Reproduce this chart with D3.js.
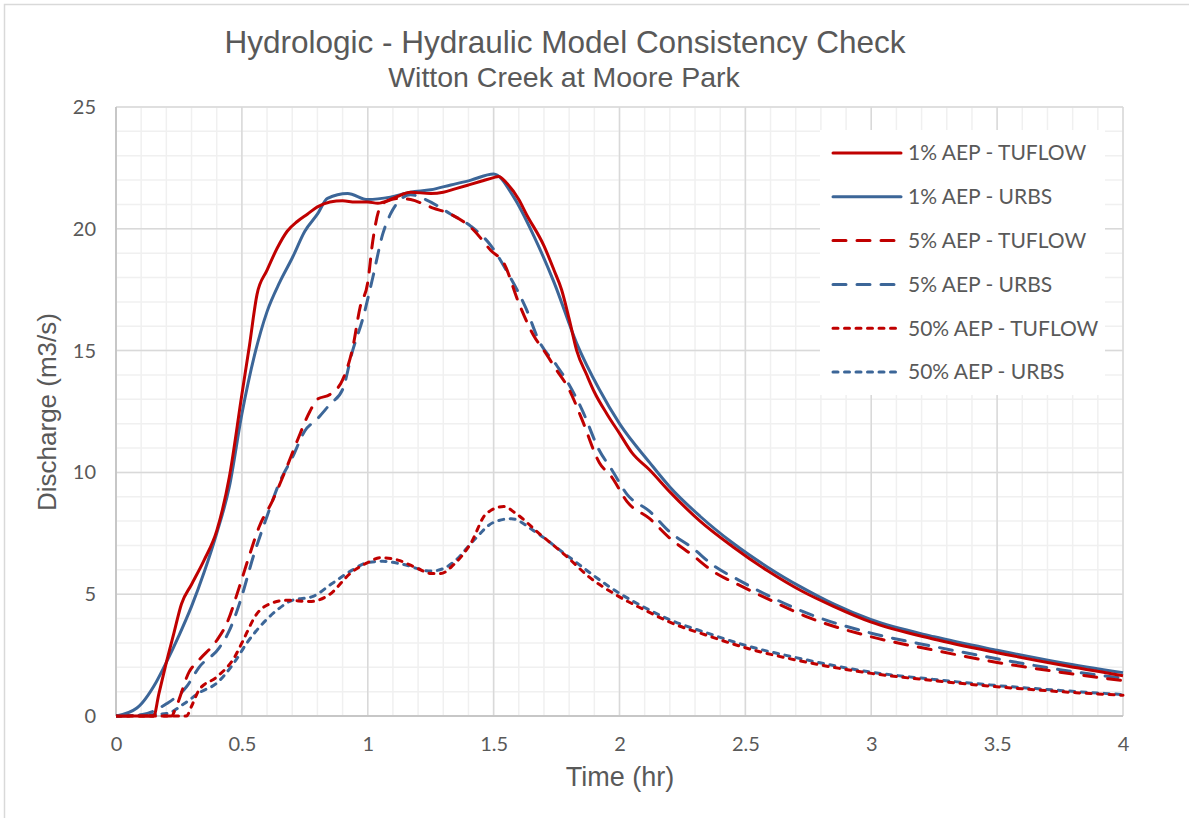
<html>
<head>
<script src="https://d3js.org/d3.v7.min.js"></script>
<style>
  body { margin: 0; background: #fff; }
  text { fill: #595959; }
</style>
</head>
<body>
<script>

// --- data ---
var titleText = "Hydrologic - Hydraulic Model Consistency Check";
var subtitleText = "Witton Creek at Moore Park";

var xTicks = [0, 0.5, 1, 1.5, 2, 2.5, 3, 3.5, 4];
var yTicks = [0, 5, 10, 15, 20, 25];

var seriesNames = ["1% AEP - TUFLOW", "1% AEP - URBS", "5% AEP - TUFLOW",
                   "5% AEP - URBS", "50% AEP - TUFLOW", "50% AEP - URBS"];

var t1Tuflow = [0, 0.15, 0.17, 0.2, 0.23, 0.26, 0.3, 0.35, 0.4, 0.45, 0.5, 0.53, 0.56, 0.6, 0.64, 0.68, 0.72, 0.76, 0.8, 0.85, 0.9, 0.95, 1.0, 1.04, 1.1, 1.17, 1.25, 1.3, 1.35, 1.4, 1.45, 1.5, 1.52, 1.55, 1.6, 1.63, 1.7, 1.74, 1.77, 1.8, 1.83, 1.87, 1.9, 1.95, 2.0, 2.05, 2.12, 2.2, 2.32, 2.45, 2.59, 2.72, 2.85, 3.0, 3.25, 3.5, 3.75, 4.0];
var q1Tuflow = [0, 0, 0.9, 2.2, 3.4, 4.6, 5.4, 6.4, 7.6, 9.8, 13.2, 15.2, 17.3, 18.3, 19.2, 19.9, 20.3, 20.6, 20.9, 21.1, 21.15, 21.1, 21.1, 21.05, 21.25, 21.5, 21.45, 21.5, 21.65, 21.8, 21.95, 22.1, 22.15, 21.9, 21.2, 20.6, 19.3, 18.3, 17.5, 16.3, 15.0, 14.0, 13.3, 12.4, 11.6, 10.8, 10.1, 9.2, 8.0, 6.95, 5.95, 5.15, 4.5, 3.85, 3.15, 2.6, 2.1, 1.65];

var t1Urbs = [0, 0.083, 0.16, 0.2, 0.25, 0.3, 0.35, 0.4, 0.45, 0.5, 0.55, 0.6, 0.65, 0.7, 0.75, 0.8, 0.84, 0.92, 1.0, 1.09, 1.17, 1.25, 1.33, 1.41, 1.5, 1.58, 1.66, 1.74, 1.83, 1.92, 2.0, 2.12, 2.2, 2.32, 2.45, 2.59, 2.72, 2.85, 3.0, 3.25, 3.5, 3.75, 4.0];
var q1Urbs = [0, 0.33, 1.4, 2.2, 3.3, 4.5, 5.9, 7.5, 9.4, 12.4, 14.8, 16.6, 17.8, 18.8, 19.9, 20.6, 21.25, 21.45, 21.2, 21.3, 21.5, 21.6, 21.8, 22.0, 22.25, 21.3, 19.7, 17.8, 15.3, 13.4, 12.0, 10.4, 9.4, 8.2, 7.1, 6.1, 5.3, 4.6, 3.95, 3.25, 2.7, 2.2, 1.78];

var t5Tuflow = [0, 0.22, 0.24, 0.29, 0.33, 0.4, 0.44, 0.49, 0.53, 0.57, 0.62, 0.67, 0.72, 0.77, 0.8, 0.85, 0.9, 0.94, 0.97, 1.0, 1.02, 1.05, 1.08, 1.13, 1.17, 1.26, 1.33, 1.42, 1.49, 1.54, 1.6, 1.66, 1.7, 1.75, 1.8, 1.85, 1.92, 1.97, 2.03, 2.12, 2.2, 2.29, 2.37, 2.47, 2.57, 2.75, 3.0, 3.25, 3.5, 3.75, 4.0];
var q5Tuflow = [0, 0, 0.4, 1.8, 2.3, 3.1, 3.8, 5.3, 6.6, 7.8, 8.8, 10.0, 11.3, 12.5, 13.0, 13.2, 13.8, 15.1, 16.8, 17.8, 19.5, 20.9, 21.15, 21.25, 21.2, 20.85, 20.6, 19.95, 19.1, 18.6, 16.95, 15.6, 15.0, 14.2, 13.4, 12.2, 10.4, 9.8, 8.8, 8.1, 7.3, 6.6, 5.95, 5.4, 4.9, 4.05, 3.25, 2.7, 2.2, 1.8, 1.45];

var t5Urbs = [0, 0.1, 0.2, 0.28, 0.33, 0.41, 0.45, 0.49, 0.55, 0.6, 0.65, 0.7, 0.75, 0.8, 0.85, 0.9, 0.94, 0.98, 1.02, 1.06, 1.09, 1.13, 1.17, 1.23, 1.33, 1.41, 1.49, 1.55, 1.63, 1.68, 1.75, 1.8, 1.85, 1.92, 1.97, 2.03, 2.12, 2.2, 2.29, 2.37, 2.47, 2.57, 2.75, 3.0, 3.25, 3.5, 3.75, 4.0];
var q5Urbs = [0, 0.05, 0.5, 1.2, 2.0, 2.8, 3.5, 4.6, 6.7, 8.2, 9.6, 10.6, 11.7, 12.2, 12.8, 13.4, 15.0, 16.3, 18.0, 19.8, 20.6, 21.2, 21.4, 21.2, 20.6, 20.1, 19.3, 18.3, 16.7, 15.4, 14.4, 13.6, 12.6, 10.9, 10.1, 9.1, 8.4, 7.55, 6.9, 6.2, 5.6, 5.05, 4.2, 3.4, 2.85, 2.35, 1.9, 1.55];

var t50Tuflow = [0, 0.28, 0.3, 0.33, 0.4, 0.47, 0.5, 0.56, 0.61, 0.68, 0.77, 0.85, 0.93, 1.0, 1.05, 1.12, 1.2, 1.25, 1.29, 1.34, 1.41, 1.47, 1.54, 1.59, 1.68, 1.79, 1.88, 1.99, 2.11, 2.2, 2.35, 2.5, 2.7, 3.0, 3.25, 3.5, 3.75, 4.0];
var q50Tuflow = [0, 0, 0.4, 1.07, 1.6, 2.4, 3.0, 4.2, 4.6, 4.75, 4.7, 5.0, 5.85, 6.3, 6.5, 6.4, 6.05, 5.85, 5.85, 6.2, 7.1, 8.3, 8.6, 8.3, 7.5, 6.55, 5.7, 4.95, 4.3, 3.85, 3.3, 2.8, 2.3, 1.75, 1.45, 1.2, 1.0, 0.85];

var t50Urbs = [0, 0.2, 0.27, 0.33, 0.4, 0.47, 0.52, 0.57, 0.64, 0.7, 0.78, 0.86, 0.94, 1.0, 1.06, 1.13, 1.25, 1.3, 1.35, 1.42, 1.5, 1.57, 1.66, 1.79, 1.99, 2.11, 2.2, 2.35, 2.5, 2.7, 3.0, 3.25, 3.5, 3.75, 4.0];
var q50Urbs = [0, 0.1, 0.5, 0.95, 1.35, 2.2, 3.0, 3.65, 4.35, 4.75, 4.9, 5.45, 6.0, 6.3, 6.35, 6.25, 5.95, 6.05, 6.4, 7.2, 7.95, 8.1, 7.6, 6.6, 5.1, 4.4, 3.95, 3.4, 2.9, 2.4, 1.8, 1.5, 1.25, 1.05, 0.88];

// --- setup ---
var W = 1189, H = 818;
var plotLeft = 116, plotRight = 1123, plotTop = 107, plotBottom = 716;
var red = "#c00000", blue = "#3c6698";

var seriesList = [
  { name: seriesNames[0], t: t1Tuflow, q: q1Tuflow, color: red, dash: null },
  { name: seriesNames[1], t: t1Urbs, q: q1Urbs, color: blue, dash: null },
  { name: seriesNames[2], t: t5Tuflow, q: q5Tuflow, color: red, dash: "13,11" },
  { name: seriesNames[3], t: t5Urbs, q: q5Urbs, color: blue, dash: "13,11" },
  { name: seriesNames[4], t: t50Tuflow, q: q50Tuflow, color: red, dash: "5,6.5" },
  { name: seriesNames[5], t: t50Urbs, q: q50Urbs, color: blue, dash: "5,6.5" }
];

var svg = d3.select("body").append("svg")
  .attr("width", W)
  .attr("height", H);

svg.append("rect")
  .attr("x", 4.5).attr("y", 4.5)
  .attr("width", W + 20).attr("height", H + 20)
  .attr("fill", "white")
  .attr("stroke", "#d9d9d9")
  .attr("stroke-width", 1.5);

var x = d3.scaleLinear().domain([0, 4]).range([plotLeft, plotRight]);
var y = d3.scaleLinear().domain([0, 25]).range([plotBottom, plotTop]);

// minor grid
svg.append("g").selectAll("line")
  .data(d3.range(0, 41).map(d => d / 10))
  .enter().append("line")
  .attr("x1", d => x(d)).attr("x2", d => x(d))
  .attr("y1", plotTop).attr("y2", plotBottom)
  .attr("stroke", "#f0f0f0").attr("stroke-width", 1.5);

svg.append("g").selectAll("line")
  .data(d3.range(0, 26))
  .enter().append("line")
  .attr("x1", plotLeft).attr("x2", plotRight)
  .attr("y1", d => y(d)).attr("y2", d => y(d))
  .attr("stroke", "#f0f0f0").attr("stroke-width", 1.5);

// major grid
svg.append("g").selectAll("line")
  .data(xTicks)
  .enter().append("line")
  .attr("x1", d => x(d)).attr("x2", d => x(d))
  .attr("y1", plotTop).attr("y2", plotBottom)
  .attr("stroke", "#d9d9d9").attr("stroke-width", 1.5);

svg.append("g").selectAll("line")
  .data(yTicks)
  .enter().append("line")
  .attr("x1", plotLeft).attr("x2", plotRight)
  .attr("y1", d => y(d)).attr("y2", d => y(d))
  .attr("stroke", "#d9d9d9").attr("stroke-width", 1.5);

// axes (labels only, lines drawn by hand)
var xAxis = svg.append("g")
  .attr("transform", "translate(0," + plotBottom + ")")
  .call(d3.axisBottom(x).tickValues(xTicks).tickFormat(d3.format("")).tickSize(0).tickPadding(21));
var yAxis = svg.append("g")
  .attr("transform", "translate(" + plotLeft + ",0)")
  .call(d3.axisLeft(y).tickValues(yTicks).tickSize(0).tickPadding(20));
[xAxis, yAxis].forEach(function(a) {
  a.select(".domain").remove();
  a.selectAll("text")
    .attr("font-family", "Lato, 'Open Sans', sans-serif")
    .attr("font-size", 20)
    .style("fill", "#595959");
});

svg.append("line")
  .attr("x1", plotLeft).attr("x2", plotLeft).attr("y1", plotTop).attr("y2", plotBottom)
  .attr("stroke", "#bfbfbf").attr("stroke-width", 1.5);
svg.append("line")
  .attr("x1", plotLeft).attr("x2", plotRight).attr("y1", plotBottom).attr("y2", plotBottom)
  .attr("stroke", "#bfbfbf").attr("stroke-width", 1.5);

// series
svg.append("clipPath").attr("id", "plotclip")
  .append("rect")
  .attr("x", plotLeft).attr("y", plotTop - 2)
  .attr("width", plotRight - plotLeft + 3).attr("height", plotBottom - plotTop + 4);

var line = d3.line()
  .x(d => x(d[0]))
  .y(d => y(d[1]))
  .curve(d3.curveMonotoneX);

svg.append("g").attr("clip-path", "url(#plotclip)")
  .selectAll("path")
  .data(seriesList.slice().reverse())
  .enter().append("path")
  .attr("d", s => line(s.t.map((t, i) => [t, s.q[i]])))
  .attr("fill", "none")
  .attr("stroke", s => s.color)
  .attr("stroke-width", 3)
  .attr("stroke-linejoin", "round")
  .attr("stroke-linecap", s => s.dash ? "round" : "butt")
  .attr("stroke-dasharray", s => s.dash);

// legend
var lg = svg.append("g");
lg.append("rect")
  .attr("x", 820).attr("y", 130)
  .attr("width", 285).attr("height", 265)
  .attr("fill", "white");

var items = lg.selectAll("g.item")
  .data(seriesList)
  .enter().append("g")
  .attr("class", "item")
  .attr("transform", (d, i) => "translate(0," + (153 + i * 43.8) + ")");

items.append("line")
  .attr("x1", 833).attr("x2", 901)
  .attr("y1", 0).attr("y2", 0)
  .attr("stroke", d => d.color)
  .attr("stroke-width", 3)
  .attr("stroke-linecap", "round")
  .attr("stroke-dasharray", d => d.dash);

items.append("text")
  .attr("x", 908)
  .attr("y", 0)
  .attr("dy", "0.35em")
  .attr("font-family", "Lato, 'Open Sans', sans-serif")
  .attr("font-size", 21)
  .text(d => d.name);

// titles
svg.append("text")
  .attr("x", 565).attr("y", 53)
  .attr("text-anchor", "middle")
  .attr("font-family", "'Liberation Sans', Arial, sans-serif")
  .attr("font-size", 31.5)
  .text(titleText);

svg.append("text")
  .attr("x", 564).attr("y", 87)
  .attr("text-anchor", "middle")
  .attr("font-family", "'Liberation Sans', Arial, sans-serif")
  .attr("font-size", 28.5)
  .text(subtitleText);

svg.append("text")
  .attr("x", 620).attr("y", 786)
  .attr("text-anchor", "middle")
  .attr("font-family", "'Liberation Sans', Arial, sans-serif")
  .attr("font-size", 27)
  .text("Time (hr)");

svg.append("text")
  .attr("transform", "translate(56,412) rotate(-90)")
  .attr("text-anchor", "middle")
  .attr("font-family", "'Liberation Sans', Arial, sans-serif")
  .attr("font-size", 26)
  .text("Discharge (m3/s)");

</script>
</body>
</html>
